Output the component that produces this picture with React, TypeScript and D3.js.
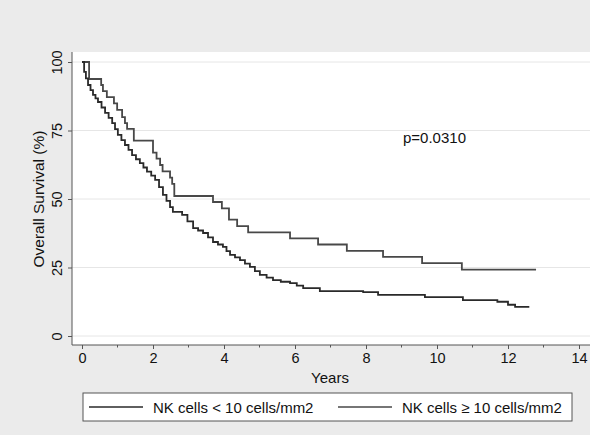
import React, { useRef, useEffect } from 'react';
import * as d3 from 'd3';

const xTicks = [0, 2, 4, 6, 8, 10, 12, 14];
const xMinor = [1, 3, 5, 7, 9, 11, 13];
const yTicks = [0, 25, 50, 75, 100];
const legendLabels = ['NK cells < 10 cells/mm2', 'NK cells \u2265 10 cells/mm2'];

// NK cells >= 10 cells/mm2 (upper curve)
const highTime = [0, 0.2, 0.54, 0.59, 0.7, 0.9, 0.99, 1.13, 1.21, 1.27, 1.46, 2.0, 2.1, 2.2, 2.27, 2.48, 2.54, 2.6, 3.69, 3.94, 4.14, 4.37, 4.68, 5.86, 6.65, 7.46, 8.48, 9.58, 10.7, 12.79];
const highSurv = [100, 93.8, 91.6, 89.4, 87.2, 84.9, 82.5, 79.9, 77.7, 75.6, 71.3, 66.9, 64.7, 62.4, 60.1, 57.8, 55.5, 51.1, 48.9, 46.6, 42.5, 40.1, 37.8, 35.6, 33.4, 31.1, 28.9, 26.6, 24.2, 24.2];

// NK cells < 10 cells/mm2 (lower curve)
const lowTime = [0, 0.06, 0.11, 0.17, 0.24, 0.31, 0.38, 0.45, 0.55, 0.65, 0.75, 0.85, 0.93, 1.01, 1.11, 1.21, 1.31, 1.41, 1.52, 1.63, 1.73, 1.83, 1.95, 2.06, 2.17, 2.28, 2.38, 2.48, 2.56, 2.82, 2.97, 3.13, 3.27, 3.41, 3.55, 3.69, 3.83, 3.97, 4.07, 4.17, 4.31, 4.45, 4.59, 4.73, 4.87, 5.01, 5.2, 5.38, 5.6, 5.86, 6.05, 6.23, 6.7, 7.92, 8.34, 9.66, 10.73, 11.7, 12.0, 12.2, 12.6];
const lowSurv = [100, 96.4, 94.0, 91.6, 89.7, 88.0, 86.7, 85.4, 83.4, 81.4, 79.6, 77.7, 75.5, 73.4, 71.5, 69.7, 67.9, 66.0, 64.5, 63.1, 61.5, 60.0, 58.5, 57.0, 54.3, 51.5, 49.3, 47.0, 45.3, 44.2, 41.8, 39.4, 38.5, 37.6, 36.0, 34.3, 33.4, 32.5, 31.0, 29.6, 28.7, 27.7, 26.4, 25.2, 23.7, 22.3, 21.3, 20.4, 19.8, 19.3, 18.4, 17.5, 16.4, 16.0, 15.0, 14.2, 13.1, 12.5, 11.4, 10.6, 10.6];

const font = 'Arial, "Liberation Sans", sans-serif';

function KMChart() {
  const ref = useRef<SVGSVGElement>(null);

  useEffect(() => {
    const svg = d3.select(ref.current);
    svg.selectAll('*').remove();

    const x = d3.scaleLinear().domain([0, 14]).range([82, 579]);
    const y = d3.scaleLinear().domain([0, 100]).range([336, 62]);

    svg.append('rect').attr('width', 590).attr('height', 435).attr('fill', '#ebebeb');
    svg.append('rect').attr('x', 72).attr('y', 52).attr('width', 518).attr('height', 293).attr('fill', '#fff');

    // grid
    svg.selectAll('.grid').data(yTicks).enter().append('line')
      .attr('x1', 72).attr('x2', 590)
      .attr('y1', (d) => y(d)).attr('y2', (d) => y(d))
      .attr('stroke', '#e6e6e6').attr('stroke-width', 1);

    // axes
    const yAxis = svg.append('g').attr('transform', 'translate(72,0)')
      .call(d3.axisLeft(y).tickValues(yTicks).tickSize(4).tickFormat(d3.format('d')));
    yAxis.select('.domain').attr('d', 'M0,52V345').attr('stroke', '#555');
    yAxis.selectAll('.tick line').attr('stroke', '#555');
    yAxis.selectAll('.tick text')
      .attr('transform', 'rotate(-90)')
      .attr('x', 0).attr('y', -10).attr('dy', 0)
      .attr('text-anchor', 'middle')
      .style('font-family', font).style('font-size', '14.5px').attr('fill', '#111');

    const xAxis = svg.append('g').attr('transform', 'translate(0,345)')
      .call(d3.axisBottom(x).tickValues(xTicks).tickSize(4).tickFormat(d3.format('d')));
    xAxis.select('.domain').attr('d', 'M72,0H590').attr('stroke', '#555');
    xAxis.selectAll('.tick line').attr('stroke', '#555');
    xAxis.selectAll('.tick text').attr('y', 8).attr('dy', '0.71em')
      .style('font-family', font).style('font-size', '14.5px').attr('fill', '#111');
    xAxis.selectAll('.minor').data(xMinor).enter().append('line')
      .attr('x1', (d) => x(d)).attr('x2', (d) => x(d))
      .attr('y1', 0).attr('y2', 2.5).attr('stroke', '#555');

    svg.append('text').attr('x', 330).attr('y', 383).attr('text-anchor', 'middle')
      .style('font-family', font).style('font-size', '15px').attr('fill', '#111').text('Years');
    svg.append('text').attr('transform', 'translate(44,199) rotate(-90)').attr('text-anchor', 'middle')
      .style('font-family', font).style('font-size', '15.5px').attr('fill', '#111').text('Overall Survival (%)');

    // curves
    const line = d3.line<[number, number]>()
      .x((d) => x(d[0])).y((d) => y(d[1]))
      .curve(d3.curveStepAfter);
    const high = highTime.map((t, i) => [t, highSurv[i]] as [number, number]);
    const low = lowTime.map((t, i) => [t, lowSurv[i]] as [number, number]);
    svg.append('path').attr('d', line(high) as string)
      .attr('fill', 'none').attr('stroke', '#484848').attr('stroke-width', 1.8);
    svg.append('path').attr('d', line(low) as string)
      .attr('fill', 'none').attr('stroke', '#2a2a2a').attr('stroke-width', 1.8);

    svg.append('text').attr('x', 403).attr('y', 143)
      .style('font-family', font).style('font-size', '15px').attr('fill', '#111').text('p=0.0310');

    // legend
    svg.append('rect').attr('x', 83).attr('y', 393).attr('width', 489).attr('height', 28)
      .attr('fill', '#fff').attr('stroke', '#555').attr('stroke-width', 1);
    const lg = svg.selectAll('.lg').data(legendLabels).enter().append('g')
      .attr('transform', (d, i) => `translate(${i === 0 ? 89 : 338},407)`);
    lg.append('line').attr('x1', 0).attr('x2', 54).attr('y1', 0).attr('y2', 0)
      .attr('stroke', (d, i) => (i === 0 ? '#2a2a2a' : '#484848')).attr('stroke-width', 1.4);
    lg.append('text').attr('x', 64).attr('y', 5.5)
      .style('font-family', font).style('font-size', '15px').attr('fill', '#111').text((d) => d);
  }, []);

  return <svg ref={ref} width={590} height={435} style={{ position: 'absolute', left: 0, top: 0 }} />;
}

export default function App() {
  return <KMChart />;
}
